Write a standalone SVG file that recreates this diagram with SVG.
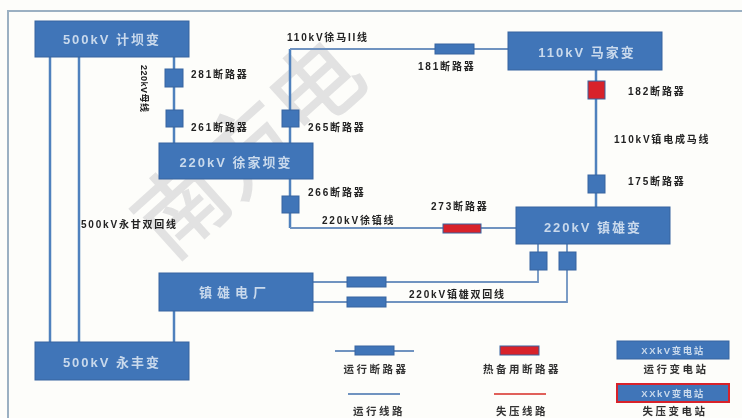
<svg xmlns="http://www.w3.org/2000/svg" width="742" height="418" viewBox="0 0 742 418">
<defs>
<filter id="soft" x="-5%" y="-5%" width="110%" height="110%"><feGaussianBlur stdDeviation="0.65"/></filter>
</defs>
<style>
text{font-family:"Liberation Sans","Noto Sans CJK SC",sans-serif}
.st rect{fill:#3f75b8;stroke:#36659f;stroke-width:1}
.st text{fill:#c9d9ec;font-size:13px;font-weight:bold;text-anchor:middle;letter-spacing:2px}
.ln{fill:none;stroke:#4f81bd;stroke-width:2.5}
.thin{fill:none;stroke:#6f93c0;stroke-width:1.8}
.bk{fill:#3f75b8;stroke:#36659f;stroke-width:1}
.rd{fill:#d8202a;stroke:#36659f;stroke-width:1}
.lb{fill:#222;font-size:10px;font-weight:bold;letter-spacing:1.8px}
.lg{fill:#333;font-size:10.5px;font-weight:bold;text-anchor:middle;letter-spacing:2.5px}
.ss{fill:#c9d9ec;font-size:9.5px;font-weight:bold;text-anchor:middle;letter-spacing:1.5px}
.wm{fill:#e2e2e2;stroke:#e2e2e2;stroke-width:1.5;font-size:90px}
</style>
<rect width="742" height="418" fill="#fdfdfa"/>
<path d="M8 418V11H742" fill="none" stroke="#9bb0c2" stroke-width="2"/>
<g id="watermark">
<text class="wm" transform="translate(170 262) rotate(-42)">南方电</text>
</g>
<g filter="url(#soft)">
<g id="connectors">
<path class="ln" d="M50 57V342M79 57V342M174 57V143M290 143V49"/>
<path class="thin" d="M290 49H508"/>
<path class="ln" d="M596 70V207M290 179V228"/>
<path class="thin" d="M290 228H516"/>
<path class="ln" d="M174 311V342"/>
<path class="thin" d="M313 282H538V244M313 302H567V244"/>
</g>
<g id="breakers">
<rect class="bk" x="165" y="69" width="18" height="18"/>
<rect class="bk" x="166" y="110" width="17" height="17"/>
<rect class="bk" x="282" y="110" width="17" height="17"/>
<rect class="bk" x="282" y="196" width="17" height="17"/>
<rect class="bk" x="435" y="44" width="39" height="10"/>
<rect class="rd" x="588" y="81" width="17" height="18"/>
<rect class="bk" x="588" y="175" width="17" height="18"/>
<rect class="rd" x="443" y="224" width="38" height="9"/>
<rect class="bk" x="530" y="252" width="17" height="18"/>
<rect class="bk" x="559" y="252" width="17" height="18"/>
<rect class="bk" x="347" y="277" width="39" height="10"/>
<rect class="bk" x="347" y="297" width="39" height="10"/>
</g>
<g id="node-jiba" class="st"><rect x="35" y="21" width="154" height="36"/><text x="112" y="44">500kV 计坝变</text></g>
<g id="node-xujia" class="st"><rect x="159" y="143" width="154" height="36"/><text x="236" y="167">220kV 徐家坝变</text></g>
<g id="node-majia" class="st"><rect x="508" y="32" width="154" height="38"/><text x="587" y="57">110kV 马家变</text></g>
<g id="node-zhenxiong" class="st"><rect x="516" y="207" width="154" height="37"/><text x="593" y="232">220kV 镇雄变</text></g>
<g id="node-plant" class="st"><rect x="159" y="273" width="154" height="38"/><text x="235" y="297" style="letter-spacing:5px">镇雄电厂</text></g>
<g id="node-yongfeng" class="st"><rect x="35" y="342" width="154" height="38"/><text x="112" y="367">500kV 永丰变</text></g>
<g id="labels">
<text class="lb" x="191" y="78">281断路器</text>
<text class="lb" x="191" y="131">261断路器</text>
<text class="lb" x="308" y="131">265断路器</text>
<text class="lb" x="308" y="196">266断路器</text>
<text class="lb" x="287" y="41">110kV徐马II线</text>
<text class="lb" x="418" y="70">181断路器</text>
<text class="lb" x="628" y="95">182断路器</text>
<text class="lb" x="614" y="143">110kV镇电成马线</text>
<text class="lb" x="628" y="185">175断路器</text>
<text class="lb" x="431" y="210">273断路器</text>
<text class="lb" x="322" y="224">220kV徐镇线</text>
<text class="lb" x="81" y="228">500kV永甘双回线</text>
<text class="lb" x="409" y="298">220kV镇雄双回线</text>
<text class="lb" style="font-size:9px;letter-spacing:.5px" transform="translate(141 65) rotate(90)">220kV母线</text>
</g>
<g id="legend">
<path class="thin" d="M335 351H414M348 394H400"/>
<path d="M494 394H546" fill="none" stroke="#e0605a" stroke-width="1.8"/>
<rect class="bk" x="355" y="346" width="39" height="9"/>
<rect class="rd" x="500" y="346" width="39" height="9"/>
<rect class="bk" x="617" y="341" width="112" height="18"/>
<rect x="617" y="384" width="112" height="18" fill="#3f75b8" stroke="#d8202a" stroke-width="2"/>
<text class="ss" x="673" y="354">XXkV变电站</text>
<text class="ss" x="673" y="397">XXkV变电站</text>
<text class="lg" x="376" y="373">运行断路器</text>
<text class="lg" x="522" y="373">热备用断路器</text>
<text class="lg" x="676" y="373">运行变电站</text>
<text class="lg" x="379" y="415">运行线路</text>
<text class="lg" x="522" y="415">失压线路</text>
<text class="lg" x="675" y="415">失压变电站</text>
</g>
</g>
</svg>
